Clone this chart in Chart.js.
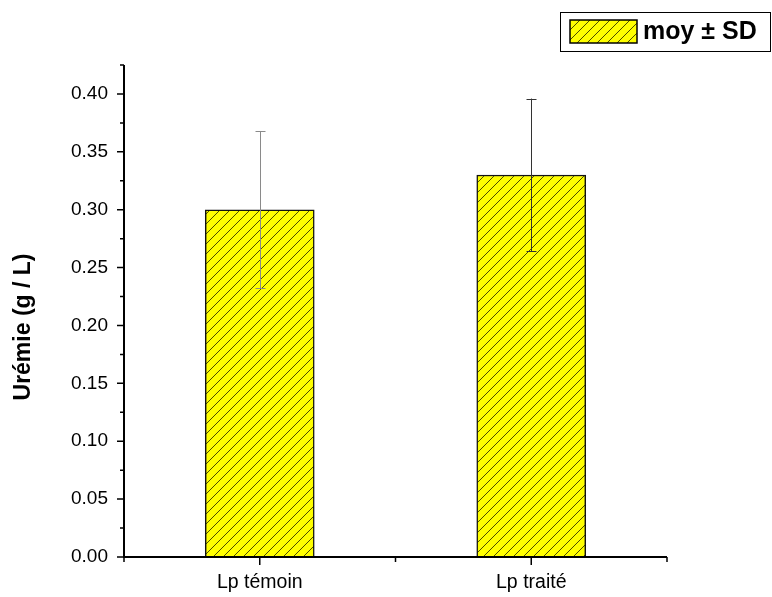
<!DOCTYPE html>
<html>
<head>
<meta charset="utf-8">
<script src="https://cdn.jsdelivr.net/npm/chart.js@4/dist/chart.umd.min.js"></script>
<style>
  html, body { margin: 0; padding: 0; background: #fff; }
  #wrap { width: 772px; height: 597px; position: relative; }
</style>
</head>
<body>
<div id="wrap"><canvas id="c" width="772" height="597"></canvas></div>
<script>
// Urémie par groupe : moyenne et écart-type
const categories = ['Lp témoin', 'Lp traité'];
const positions = [1, 2];
const means = [0.30, 0.33];
const sds = [0.068, 0.066];
const yTicks = [0.00, 0.05, 0.10, 0.15, 0.20, 0.25, 0.30, 0.35, 0.40];
const legendLabel = 'moy ± SD';
const yTitle = 'Urémie (g / L)';

const FONT = '"Liberation Sans", Arial, sans-serif';

function hatchPattern() {
  const s = 10;
  const p = document.createElement('canvas');
  p.width = s; p.height = s;
  const g = p.getContext('2d');
  g.fillStyle = '#ffff00';
  g.fillRect(0, 0, s, s);
  g.strokeStyle = 'rgba(30,30,0,0.8)';
  g.lineWidth = 1;
  g.beginPath();
  g.moveTo(-1, s + 1); g.lineTo(s + 1, -1);
  g.moveTo(-1, 1); g.lineTo(1, -1);
  g.moveTo(s - 1, s + 1); g.lineTo(s + 1, s - 1);
  g.stroke();
  return document.getElementById('c').getContext('2d').createPattern(p, 'repeat');
}
const hatch = hatchPattern();

// axes lines, tick marks, error bars, axis title and legend box
const decorations = {
  id: 'decorations',
  afterDatasetsDraw(chart) {
    const ctx = chart.ctx;
    const xs = chart.scales.x, ys = chart.scales.y;
    const a = chart.chartArea;
    ctx.save();

    // error bars
    const errColors = ['#8a8a8a', '#333333'];
    means.forEach((m, i) => {
      const x = Math.round(xs.getPixelForValue(positions[i])) + 0.5;
      const yt = ys.getPixelForValue(m + sds[i]);
      const yb = ys.getPixelForValue(m - sds[i]);
      ctx.strokeStyle = errColors[i];
      ctx.lineWidth = 1;
      ctx.beginPath();
      ctx.moveTo(x, yt); ctx.lineTo(x, yb);
      ctx.moveTo(x - 5, Math.round(yt) + 0.5); ctx.lineTo(x + 5, Math.round(yt) + 0.5);
      ctx.moveTo(x - 5, Math.round(yb) + 0.5); ctx.lineTo(x + 5, Math.round(yb) + 0.5);
      ctx.stroke();
    });

    // axis lines
    ctx.strokeStyle = '#000';
    ctx.lineWidth = 2;
    ctx.beginPath();
    ctx.moveTo(a.left, a.top); ctx.lineTo(a.left, a.bottom + 1);
    ctx.moveTo(a.left - 1, a.bottom); ctx.lineTo(a.right, a.bottom);
    ctx.stroke();

    // y ticks: major outward, minor halfway
    ctx.lineWidth = 1.5;
    ctx.beginPath();
    for (let v = 0; v <= ys.max + 1e-9; v += 0.025) {
      const y = ys.getPixelForValue(v);
      const major = Math.abs(v / 0.05 - Math.round(v / 0.05)) < 1e-6;
      ctx.moveTo(a.left, y); ctx.lineTo(a.left - (major ? 7 : 4), y);
    }
    // x ticks: categories major, mid points minor
    for (let v = xs.min; v <= xs.max + 1e-9; v += 0.5) {
      const x = xs.getPixelForValue(v);
      const major = Math.abs(v - Math.round(v)) < 1e-6;
      ctx.moveTo(x, a.bottom); ctx.lineTo(x, a.bottom + (major ? 8 : 5));
    }
    ctx.stroke();

    // y axis title
    ctx.save();
    ctx.translate(24, 327);
    ctx.rotate(-Math.PI / 2);
    ctx.fillStyle = '#000';
    ctx.font = 'bold 23px ' + FONT;
    ctx.textAlign = 'center';
    ctx.textBaseline = 'middle';
    ctx.fillText(yTitle, 0, 0);
    ctx.restore();

    // legend
    ctx.fillStyle = '#fff';
    ctx.fillRect(560, 12, 210, 39);
    ctx.strokeStyle = '#000';
    ctx.lineWidth = 1;
    ctx.strokeRect(560.5, 12.5, 210, 39);
    ctx.fillStyle = hatch;
    ctx.fillRect(570, 20, 67, 23);
    ctx.lineWidth = 1.5;
    ctx.strokeRect(570, 20, 67, 23);
    ctx.fillStyle = '#000';
    ctx.font = 'bold 25px ' + FONT;
    ctx.textBaseline = 'middle';
    ctx.textAlign = 'left';
    ctx.fillText(legendLabel, 643, 32);

    ctx.restore();
  }
};

new Chart(document.getElementById('c'), {
  type: 'bar',
  data: {
    datasets: [{
      label: legendLabel,
      data: positions.map((p, i) => ({ x: p, y: means[i] })),
      backgroundColor: hatch,
      borderColor: '#111',
      borderWidth: 1.5,
      barThickness: 109
    }]
  },
  options: {
    responsive: false,
    animation: false,
    layout: { padding: { left: 0, top: 65, right: 105, bottom: 0 } },
    plugins: { legend: { display: false }, tooltip: { enabled: false } },
    scales: {
      x: {
        type: 'linear',
        min: 0.5, max: 2.5,
        offset: false,
        afterBuildTicks(s) { s.ticks = positions.map(v => ({ value: v })); },
        afterFit(s) { s.height = 40; },
        grid: { display: false, drawTicks: false },
        border: { display: false },
        ticks: {
          padding: 14,
          color: '#000',
          font: { family: FONT, size: 19.5 },
          callback: (v) => categories[positions.indexOf(v)] ?? ''
        }
      },
      y: {
        min: 0, max: 0.425,
        afterBuildTicks(s) { s.ticks = yTicks.map(v => ({ value: v })); },
        afterFit(s) { s.width = 124; },
        grid: { display: false, drawTicks: false },
        border: { display: false },
        ticks: {
          padding: 16,
          color: '#000',
          font: { family: FONT, size: 19 },
          callback: (v) => Number(v).toFixed(2)
        }
      }
    }
  },
  plugins: [decorations]
});
</script>
</body>
</html>
